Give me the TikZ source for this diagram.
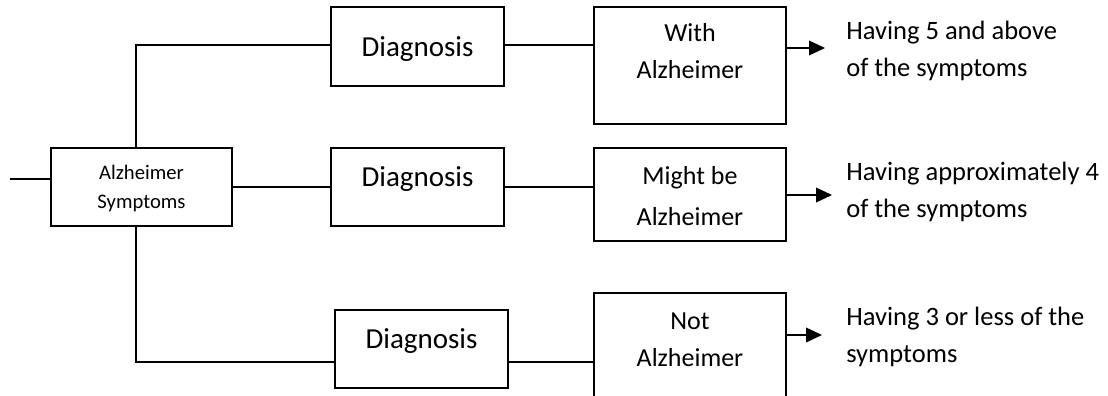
\documentclass[tikz,border=0pt]{standalone}
\usepackage{fontspec}
\setmainfont{Carlito}
\usetikzlibrary{arrows.meta}
\begin{document}
\begin{tikzpicture}[x=0.75pt,y=-0.75pt,
  box/.style={draw=black, line width=1.3pt, inner sep=0pt},
  con/.style={line width=1.2pt},
  arr/.style={con, -{Triangle[length=12pt,width=11pt]}},
  txt/.style={inner sep=0pt, anchor=base},
  rtxt/.style={inner sep=0pt, anchor=base west, font=\fontsize{19.9pt}{24pt}\selectfont},
  dfont/.style={font=\fontsize{21.75pt}{26pt}\selectfont},
  bfont/.style={font=\fontsize{19.5pt}{24pt}\selectfont},
  sfont/.style={font=\fontsize{15.5pt}{19pt}\selectfont}]
\useasboundingbox (0,0) rectangle (1108,396);
\clip (0,0) rectangle (1108,396);
% boxes
\node[box, minimum width=181*0.75pt, minimum height=78*0.75pt] (sym) at (141.5,187) {};
\node[box, minimum width=173*0.75pt, minimum height=79*0.75pt] (d1) at (417.5,46.5) {};
\node[box, minimum width=173*0.75pt, minimum height=78*0.75pt] (d2) at (417.5,187) {};
\node[box, minimum width=173*0.75pt, minimum height=78*0.75pt] (d3) at (421.5,349) {};
\node[box, minimum width=192*0.75pt, minimum height=117*0.75pt] (r1) at (690,65.5) {};
\node[box, minimum width=192*0.75pt, minimum height=93*0.75pt] (r2) at (690,194.5) {};
\node[box, minimum width=192*0.75pt, minimum height=125*0.75pt] (r3) at (690,355.5) {};
% texts
\node[txt, sfont] (s1) at (141.5,179.3) {Alzheimer};
\node[txt, sfont] (s2) at (141.5,208.3) {Symptoms};
\node[txt, dfont] (t1) at (417.5,56) {Diagnosis};
\node[txt, dfont] (t2) at (417.5,186) {Diagnosis};
\node[txt, dfont] (t3) at (421.5,348.7) {Diagnosis};
\node[txt, bfont] (w1) at (690,41.7) {With};
\node[txt, bfont] (w2) at (690,78.4) {Alzheimer};
\node[txt, bfont] (m1) at (690,184) {Might be};
\node[txt, bfont] (m2) at (690,225) {Alzheimer};
\node[txt, bfont] (n1) at (690,329.4) {Not};
\node[txt, bfont] (n2) at (690,366.7) {Alzheimer};
\node[rtxt] (h1) at (846,39.8) {Having 5 and above};
\node[rtxt] (h2) at (846,76.8) {of the symptoms};
\node[rtxt] (h3) at (846,180.5) {Having approximately 4};
\node[rtxt] (h4) at (846,217.5) {of the symptoms};
\node[rtxt] (h5) at (846,325.5) {Having 3 or less of the};
\node[rtxt] (h6) at (846,362.5) {symptoms};
% helper coordinates
\coordinate (vx) at (136,0);
\coordinate (in) at (10,179);
\coordinate (yA) at (0,45);
\coordinate (yB) at (0,187);
\coordinate (yC) at (0,362);
\coordinate (e1) at (825,48);
\coordinate (e2) at (832,195);
\coordinate (e3) at (822,335);
% connectors
\draw[con] (in) -- (in -| sym.west);
\draw[con] (sym.north -| vx) |- (d1.west |- yA);
\draw[con] (sym.east |- yB) -- (d2.west |- yB);
\draw[con] (sym.south -| vx) |- (d3.west |- yC);
\draw[con] (d1.east |- yA) -- (r1.west |- yA);
\draw[con] (d2.east |- yB) -- (r2.west |- yB);
\draw[con] (d3.east |- yC) -- (r3.west |- yC);
\draw[arr] (r1.east |- e1) -- (e1);
\draw[arr] (r2.east |- e2) -- (e2);
\draw[arr] (r3.east |- e3) -- (e3);
\end{tikzpicture}
\end{document}
